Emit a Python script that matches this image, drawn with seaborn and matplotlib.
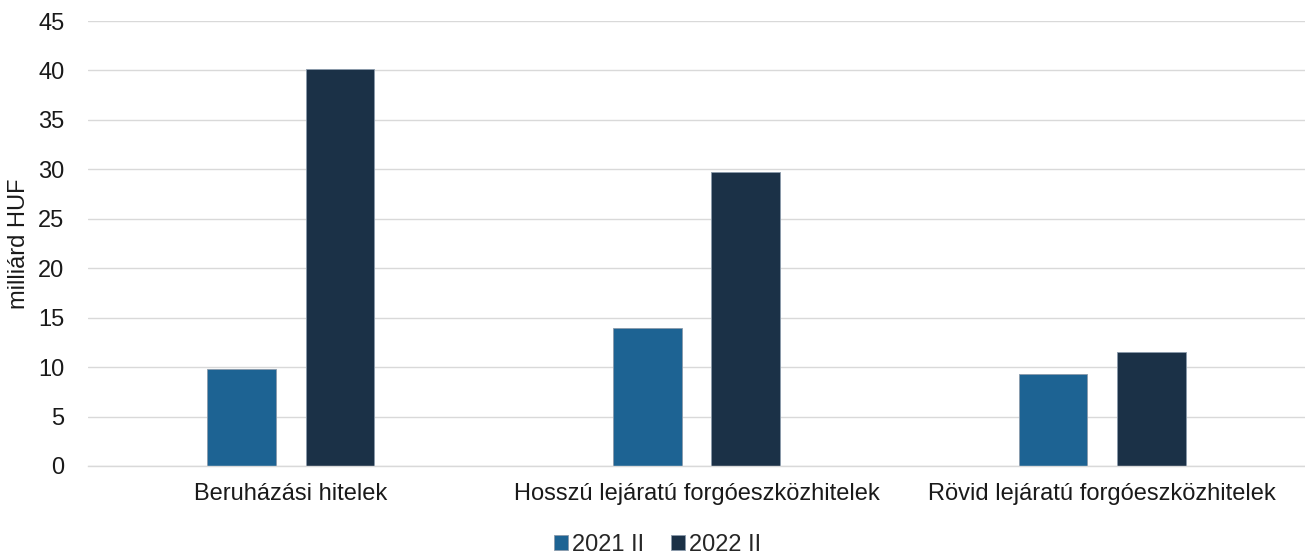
import matplotlib
matplotlib.use("Agg")
import matplotlib.pyplot as plt
import seaborn as sns
import pandas as pd

categories = ["Beruházási hitelek", "Hosszú lejáratú forgóeszközhitelek", "Rövid lejáratú forgóeszközhitelek"]
series_names = ["2021 II", "2022 II"]
values_2021 = [9.8, 14.0, 9.3]
values_2022 = [40.1, 29.7, 11.5]
yticks = [0, 5, 10, 15, 20, 25, 30, 35, 40, 45]
colors = ["#1d6393", "#1b3147"]

df = pd.DataFrame({
    "category": categories * 2,
    "series": [series_names[0]] * 3 + [series_names[1]] * 3,
    "value": values_2021 + values_2022,
})

sns.set_theme(style="white")
plt.rcParams["font.family"] = ["Liberation Sans", "DejaVu Sans"]

FS = 17
W, H = 1305, 559
fig = plt.figure(figsize=(W / 100, H / 100), dpi=100)
ax = fig.add_axes([88 / W, (H - 466) / H, (1305 - 88) / W, (466 - 21) / H])

sns.barplot(data=df, x="category", y="value", hue="series", palette=colors,
            saturation=1, width=0.484, gap=0.3, ax=ax, edgecolor="#8a9aab",
            linewidth=0.6, legend=True)

ax.set_ylim(0, 45)
ax.set_yticks(yticks)
ax.set_yticklabels([str(t) for t in yticks], fontsize=FS, color="#1a1a1a")
ax.set_xlim(-0.5, 2.5)
ax.tick_params(axis="x", labelsize=FS, colors="#1a1a1a", pad=12, length=0)
ax.tick_params(axis="y", length=0, pad=17)
ax.set_xlabel("")
ax.set_ylabel("milliárd HUF", fontsize=FS, color="#1a1a1a", labelpad=6)
ax.yaxis.grid(True, color="#d9d9d9", linewidth=1)
ax.set_axisbelow(True)
for s in ["top", "right", "left"]:
    ax.spines[s].set_visible(False)
ax.spines["bottom"].set_color("#d9d9d9")
ax.spines["bottom"].set_linewidth(1)

handles, labels = ax.get_legend_handles_labels()
ax.legend(handles, labels, loc="center", bbox_to_anchor=(0.468, -0.178),
          ncol=2, frameon=False, fontsize=FS, handlelength=0.6,
          handleheight=0.6, handletextpad=0.2, columnspacing=1.1,
          borderpad=0)

fig.savefig("out.png", dpi=100)
